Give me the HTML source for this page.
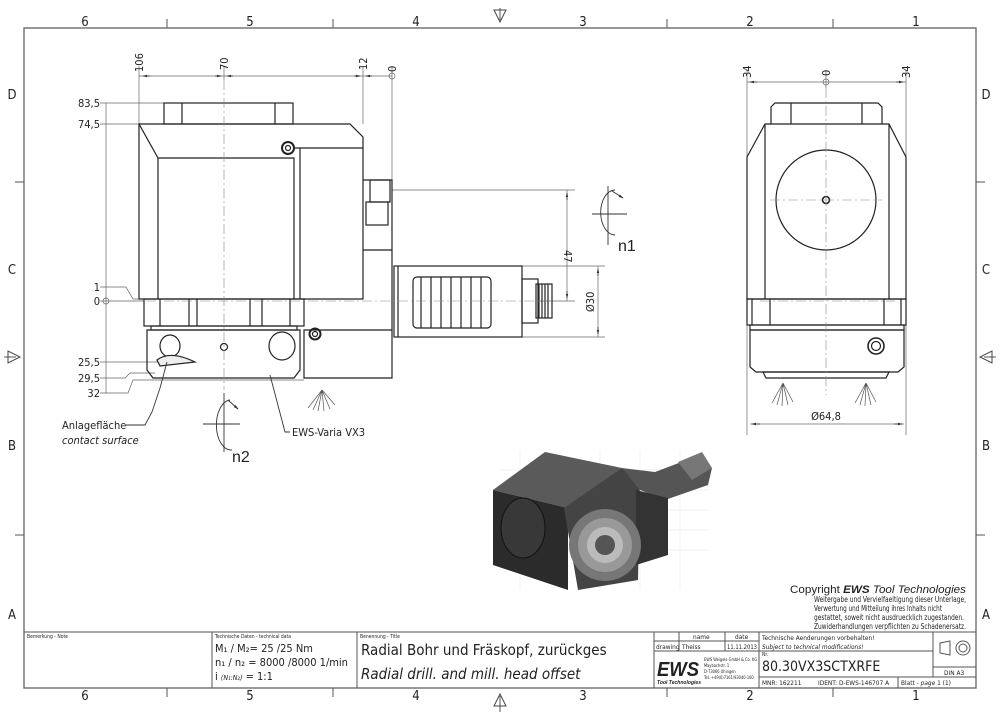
<!DOCTYPE html>
<html><head><meta charset="utf-8"><style>
html,body{margin:0;padding:0;background:#fff;}
svg{display:block;}
text{font-family:"DejaVu Sans Condensed","DejaVu Sans","Liberation Sans",sans-serif;fill:#222;}
.a{font-family:"Liberation Sans",sans-serif;}
</style></head><body>
<svg width="1000" height="715" viewBox="0 0 1000 715" xmlns="http://www.w3.org/2000/svg">
<defs>
<marker id="ar" markerWidth="6" markerHeight="6" refX="5" refY="3" orient="auto"><path d="M0,1.5 L6,3 L0,4.5z" fill="#333"/></marker>
</defs>
<rect width="1000" height="715" fill="#fff"/>
<!-- frame -->
<rect x="24" y="28" width="952" height="660" fill="none" stroke="#555" stroke-width="1.2"/>
<g stroke="#555" stroke-width="1">
<line x1="167" y1="19" x2="167" y2="28"/><line x1="333" y1="19" x2="333" y2="28"/><line x1="667" y1="19" x2="667" y2="28"/><line x1="833" y1="19" x2="833" y2="28"/>
<line x1="167" y1="688" x2="167" y2="697"/><line x1="333" y1="688" x2="333" y2="697"/><line x1="667" y1="688" x2="667" y2="697"/><line x1="833" y1="688" x2="833" y2="697"/>
<line x1="24" y1="182" x2="15" y2="182"/><line x1="24" y1="535" x2="15" y2="535"/>
<line x1="976" y1="182" x2="985" y2="182"/><line x1="976" y1="535" x2="985" y2="535"/>
<line x1="500" y1="20" x2="500" y2="8"/><line x1="500" y1="696" x2="500" y2="712"/>
<line x1="4" y1="357" x2="16" y2="357"/><line x1="984" y1="357" x2="996" y2="357"/>
</g>
<g fill="none" stroke="#444" stroke-width="1">
<path d="M494,10 L506,10 L500,22z"/><path d="M494,706 L506,706 L500,694z"/>
<path d="M8,351 L8,363 L20,357z"/><path d="M992,351 L992,363 L980,357z"/>
</g>
<g font-size="13" text-anchor="middle" fill="#444">
<text x="85" y="26">6</text><text x="250" y="26">5</text><text x="416" y="26">4</text><text x="583" y="26">3</text><text x="750" y="26">2</text><text x="916" y="26">1</text>
<text x="85" y="700">6</text><text x="250" y="700">5</text><text x="416" y="700">4</text><text x="583" y="700">3</text><text x="750" y="700">2</text><text x="916" y="700">1</text>
<text x="12" y="99">D</text><text x="12" y="274">C</text><text x="12" y="450">B</text><text x="12" y="619">A</text>
<text x="986" y="99">D</text><text x="986" y="274">C</text><text x="986" y="450">B</text><text x="986" y="619">A</text>
</g>

<!-- LEFT VIEW dims -->
<g stroke="#666" stroke-width="0.7" fill="none">
<line x1="139" y1="66" x2="139" y2="299"/><line x1="224" y1="66" x2="224" y2="80"/>
<line x1="363" y1="66" x2="363" y2="124"/><line x1="392" y1="66" x2="392" y2="180"/>
<line x1="139" y1="76" x2="392" y2="76"/>
<line x1="106" y1="103" x2="106" y2="393"/>
<line x1="100" y1="103" x2="164" y2="103"/><line x1="100" y1="124" x2="139" y2="124"/>
<line x1="100" y1="287" x2="126" y2="287"/><path d="M126,287 L133,299 L144,299"/>
<line x1="100" y1="301" x2="144" y2="301"/>
<line x1="100" y1="362" x2="160" y2="362"/>
<path d="M100,378 L125,378 L130,373 L155,373"/>
<path d="M100,393 L128,393 L133,380 L304,380"/>
<line x1="392" y1="190" x2="575" y2="190"/><line x1="540" y1="301" x2="575" y2="301"/>
<line x1="567" y1="190" x2="567" y2="301"/>
<line x1="522" y1="266" x2="605" y2="266"/><line x1="522" y1="337" x2="605" y2="337"/>
<line x1="598" y1="266" x2="598" y2="337"/>
<circle cx="392" cy="76" r="3"/><circle cx="106" cy="301" r="3"/>
</g>
<g stroke="#333" stroke-width="0.8">
<line x1="150" y1="76" x2="143" y2="76" marker-end="url(#ar)"/>
<line x1="215" y1="76" x2="221" y2="76" marker-end="url(#ar)"/>
<line x1="233" y1="76" x2="227" y2="76" marker-end="url(#ar)"/>
<line x1="354" y1="76" x2="360" y2="76" marker-end="url(#ar)"/>
<line x1="372" y1="76" x2="366" y2="76" marker-end="url(#ar)"/>
<line x1="567" y1="200" x2="567" y2="193" marker-end="url(#ar)"/>
<line x1="567" y1="291" x2="567" y2="298" marker-end="url(#ar)"/>
<line x1="598" y1="276" x2="598" y2="269" marker-end="url(#ar)"/>
<line x1="598" y1="327" x2="598" y2="334" marker-end="url(#ar)"/>
</g>
<g font-size="11" text-anchor="end">
<text x="100" y="107">83,5</text><text x="100" y="128">74,5</text><text x="100" y="291">1</text><text x="100" y="305">0</text>
<text x="100" y="366">25,5</text><text x="100" y="382">29,5</text><text x="100" y="397">32</text>
</g>
<g font-size="11">
<text transform="translate(143,72) rotate(-90)">106</text>
<text transform="translate(228,70) rotate(-90)">70</text>
<text transform="translate(367,70) rotate(-90)">12</text>
<text transform="translate(396,72) rotate(-90)">0</text>
<text transform="translate(564,250) rotate(90)">47</text>
<text transform="translate(594,312) rotate(-90)">Ø30</text>
</g>

<!-- LEFT VIEW body -->
<g stroke="#222" stroke-width="1.2" fill="none">
<rect x="164" y="103" width="129" height="21"/>
<path d="M182,103 L182,124 M275,103 L275,124"/>
<path d="M139,124 L350,124 L363,137 L363,299 L139,299 Z"/>
<path d="M139,124 L158,158 L294,158 L294,299 M158,158 L158,299 M300,148 L300,299 M294,148 L363,148"/>
<rect x="144" y="299" width="160" height="27"/>
<path d="M160,299 V326 M189,299 V326 M197,299 V326 M250,299 V326 M262,299 V326 M290,299 V326"/>
<rect x="151" y="326" width="146" height="4"/>
<path d="M147,330 L300,330 L300,370 L294,378 L153,378 L147,370 Z"/>
<ellipse cx="170" cy="346" rx="10" ry="11"/><ellipse cx="282" cy="346" rx="13" ry="14"/>
<path d="M157,360 Q170,350 195,362 L160,366 Z" fill="#eee"/>
<circle cx="224" cy="347" r="3.5"/>
<path d="M304,330 L392,330 L392,378 L304,378 Z"/>
<path d="M363,180 L392,180 L392,330 M363,250 L392,250"/>
<rect x="370" y="180" width="20" height="22"/><rect x="366" y="202" width="22" height="23"/>
<rect x="394" y="266" width="128" height="71"/><line x1="398" y1="266" x2="398" y2="337"/>
<rect x="522" y="279" width="16" height="44"/><rect x="536" y="284" width="16" height="34"/>
<path d="M539,284 V318 M542,284 V318 M545,284 V318 M548,284 V318"/>
<rect x="413" y="277" width="78" height="51" rx="4"/>
<path d="M421,277 V328 M431,277 V328 M441,277 V328 M451,277 V328 M461,277 V328 M471,277 V328 M481,277 V328"/>
<circle cx="288" cy="148" r="6" stroke-width="2"/><circle cx="288" cy="148" r="2.5"/>
<circle cx="315" cy="334" r="5.5" stroke-width="2"/><circle cx="315" cy="334" r="2.5"/>
</g>
<g stroke="#888" stroke-width="0.6" stroke-dasharray="10,3,2,3" fill="none">
<line x1="224" y1="80" x2="224" y2="390"/><line x1="110" y1="301" x2="560" y2="301"/>
</g>
<!-- sprays -->
<g stroke="#555" stroke-width="0.7">
<path d="M322,390 L308,408 M322,390 L313,410 M322,390 L318,411 M322,390 L324,411 M322,390 L330,409 M322,390 L335,405"/>
<path d="M783,383 L772,403 M783,383 L777,405 M783,383 L782,406 M783,383 L788,405 M783,383 L793,402"/>
<path d="M866,383 L855,403 M866,383 L860,405 M866,383 L865,406 M866,383 L871,405 M866,383 L876,402"/>
</g>
<!-- rotation symbols -->
<g stroke="#333" stroke-width="0.9" fill="none">
<path d="M615,190 A14,22 0 1,0 615,235"/><line x1="592" y1="214" x2="627" y2="214"/><line x1="608" y1="186" x2="608" y2="245"/>
<path d="M612,191 L623,198" marker-end="url(#ar)"/>
<path d="M230,400 A14,24 0 1,0 232,450"/><line x1="203" y1="424" x2="240" y2="424"/><line x1="224" y1="393" x2="224" y2="452"/>
<path d="M228,400 L238,409" marker-end="url(#ar)"/>
<path d="M167,362 L160,388 L152,412 L145,425 L126,425"/>
<path d="M270,375 L285,432 L290,432"/>
</g>
<text x="618" y="251" font-size="16" class="a">n1</text>
<text x="232" y="462" font-size="16" class="a">n2</text>
<text x="62" y="429" font-size="11">Anlagefläche</text>
<text x="62" y="444" font-size="11" font-style="italic">contact surface</text>
<text x="292" y="436" font-size="11">EWS-Varia VX3</text>

<!-- RIGHT VIEW -->
<g stroke="#666" stroke-width="0.7" fill="none">
<line x1="747" y1="70" x2="747" y2="435"/><line x1="906" y1="70" x2="906" y2="435"/><line x1="826" y1="70" x2="826" y2="88"/>
<line x1="747" y1="82" x2="906" y2="82"/><circle cx="826" cy="82" r="3"/>
<line x1="750" y1="424" x2="904" y2="424"/>
</g>
<g stroke="#333" stroke-width="0.8">
<line x1="757" y1="82" x2="750" y2="82" marker-end="url(#ar)"/>
<line x1="896" y1="82" x2="903" y2="82" marker-end="url(#ar)"/>
<line x1="760" y1="424" x2="752" y2="424" marker-end="url(#ar)"/>
<line x1="894" y1="424" x2="902" y2="424" marker-end="url(#ar)"/>
</g>
<g font-size="11">
<text transform="translate(751,78) rotate(-90)">34</text>
<text transform="translate(830,76) rotate(-90)">0</text>
<text transform="translate(910,78) rotate(-90)">34</text>
<text x="826" y="420" text-anchor="middle">Ø64,8</text>
</g>
<g stroke="#222" stroke-width="1.2" fill="none">
<path d="M771,124 L771,107 L775,103 L878,103 L882,107 L882,124"/>
<path d="M791,103 V124 M862,103 V124"/>
<path d="M765,124 L889,124 L906,157 L906,299 L747,299 L747,157 Z"/>
<path d="M765,124 V299 M889,124 V299"/>
<circle cx="826" cy="200" r="50"/>
<rect x="747" y="299" width="159" height="26"/><path d="M752,299 V325 M770,299 V325 M884,299 V325 M901,299 V325"/>
<rect x="750" y="325" width="154" height="5"/>
<path d="M750,330 L904,330 L904,367 L898,372 L756,372 L750,367 Z"/>
<path d="M763,372 L889,372 L886,378 L766,378 Z"/>
<circle cx="876" cy="346" r="8" stroke-width="1.6"/><circle cx="876" cy="346" r="4.5"/>
<circle cx="826" cy="200" r="3.5" stroke-width="1.6"/>
</g>
<g stroke="#888" stroke-width="0.6" stroke-dasharray="10,3,2,3" fill="none">
<line x1="826" y1="88" x2="826" y2="395"/><line x1="770" y1="200" x2="882" y2="200"/><line x1="760" y1="301" x2="895" y2="301"/>
</g>

<!-- 3D render -->
<g>
<g stroke="#eee" stroke-width="0.7">
<path d="M500,470 H710 M500,490 H710 M500,510 H710 M500,530 H710 M500,550 H710 M520,450 V590 M560,450 V590 M600,450 V590 M640,450 V590 M680,450 V590"/>
</g>
<polygon points="493,490 545,452 622,468 568,508" fill="#5a5a5a"/>
<polygon points="493,490 568,508 568,590 493,565" fill="#2b2b2b"/>
<ellipse cx="523" cy="528" rx="22" ry="30" fill="#383838" stroke="#111"/>
<polygon points="564,508 622,468 640,478 638,580 578,590" fill="#444"/>
<polygon points="622,468 655,472 700,455 712,468 708,485 665,500 640,490" fill="#555"/>
<polygon points="636,490 668,498 668,555 636,565" fill="#333"/>
<circle cx="605" cy="545" r="36" fill="#777"/>
<circle cx="605" cy="545" r="27" fill="#999"/>
<circle cx="605" cy="545" r="18" fill="#bbb"/>
<circle cx="605" cy="545" r="10" fill="#555"/>
<polygon points="678,462 702,452 712,468 692,480" fill="#777"/>
</g>

<!-- copyright -->
<text x="790" y="593" font-size="11" class="a" textLength="176" lengthAdjust="spacingAndGlyphs">Copyright <tspan font-weight="bold" font-style="italic">EWS</tspan> <tspan font-style="italic">Tool Technologies</tspan></text>
<g font-size="8" class="a">
<text x="814" y="602" textLength="152" lengthAdjust="spacingAndGlyphs">Weitergabe und Vervielfaeltigung dieser Unterlage,</text>
<text x="814" y="611" textLength="128" lengthAdjust="spacingAndGlyphs">Verwertung und Mitteilung ihres Inhalts nicht</text>
<text x="814" y="620" textLength="150" lengthAdjust="spacingAndGlyphs">gestattet, soweit nicht ausdruecklich zugestanden.</text>
<text x="814" y="629" textLength="152" lengthAdjust="spacingAndGlyphs">Zuwiderhandlungen verpflichten zu Schadenersatz.</text>
</g>

<!-- title block -->
<g stroke="#555" stroke-width="1" fill="none">
<line x1="24" y1="632" x2="976" y2="632"/>
<line x1="212" y1="632" x2="212" y2="688"/><line x1="357" y1="632" x2="357" y2="688"/>
<line x1="654" y1="632" x2="654" y2="688"/><line x1="759" y1="632" x2="759" y2="688"/><line x1="933" y1="632" x2="933" y2="677"/>
<line x1="654" y1="641" x2="759" y2="641"/><line x1="654" y1="651" x2="759" y2="651"/>
<line x1="679" y1="632" x2="679" y2="651"/><line x1="725" y1="632" x2="725" y2="651"/>
<line x1="759" y1="651" x2="933" y2="651"/>
<line x1="759" y1="677" x2="976" y2="677"/><line x1="933" y1="667" x2="976" y2="667"/>
<line x1="898" y1="677" x2="898" y2="688"/>
<path d="M940,643 L950,641 L950,655 L940,653 Z"/><circle cx="963" cy="648" r="7"/><circle cx="963" cy="648" r="4"/>
</g>
<g font-size="5" fill="#555">
<text x="27" y="638">Bemerkung - Note</text><text x="215" y="638">Technische Daten - technical data</text><text x="360" y="638">Benennung - Title</text>
<text x="762" y="656">Nr.</text>
</g>
<g font-size="11">
<text x="215" y="652">M₁ / M₂= 25  /25  Nm</text>
<text x="215" y="666">n₁ / n₂ = 8000 /8000  1/min</text>
<text x="215" y="680">i  <tspan font-size="7" font-style="italic">(N₁:N₂)</tspan> = 1:1</text>
</g>
<text x="361" y="655" font-size="15">Radial Bohr und Fräskopf, zurückges</text>
<text x="361" y="679" font-size="15" font-style="italic">Radial drill. and mill. head offset</text>
<g font-size="6.5">
<text x="693" y="639">name</text><text x="735" y="639">date</text>
<text x="656" y="649">drawing</text><text x="682" y="649">Theiss</text><text x="727" y="649" textLength="30" lengthAdjust="spacingAndGlyphs">11.11.2013</text>
<text x="762" y="640">Technische Aenderungen vorbehalten!</text>
<text x="762" y="649" font-style="italic">Subject to technical modifications!</text>
<text x="762" y="685">MNR: 162211</text><text x="818" y="685">IDENT: D-EWS-146707 A</text>
<text x="944" y="675">DIN A3</text>
<text x="901" y="685">Blatt - <tspan font-style="italic">page</tspan>  1 (1)</text>
</g>
<text x="762" y="671" font-size="14">80.30VX3SCTXRFE</text>
<text x="657" y="676" font-size="20" font-weight="bold" font-style="italic" class="a" fill="#111" textLength="42" lengthAdjust="spacingAndGlyphs">EWS</text>
<text x="657" y="684" font-size="5.5" font-weight="bold" font-style="italic" class="a" textLength="44" lengthAdjust="spacingAndGlyphs">Tool Technologies</text>
<g font-size="4" fill="#555" class="a"><text x="704" y="661">EWS Weigele GmbH &amp; Co. KG</text><text x="704" y="667">Maybachstr. 1</text><text x="704" y="673">D-73066 Uhingen</text><text x="704" y="679">Tel. +49(0)7161/93040-100</text></g>
</svg>
</body></html>
